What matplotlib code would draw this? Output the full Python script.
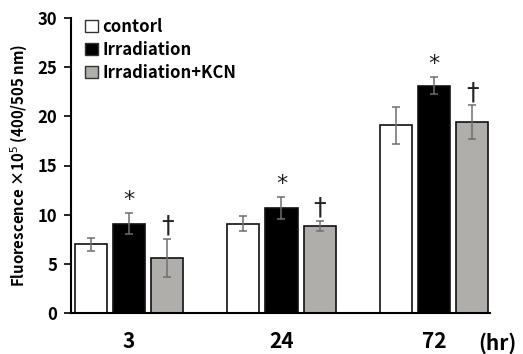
import matplotlib
matplotlib.use("Agg")
import matplotlib.pyplot as plt
import numpy as np
from matplotlib.patches import Patch

plt.rcParams['font.family'] = ['Noto Sans CJK JP', 'DejaVu Sans']

groups = ['3', '24', '72']
series = ['contorl', 'Irradiation', 'Irradiation+KCN']
values = [
    [7.0, 9.1, 19.1],
    [9.1, 10.7, 23.1],
    [5.6, 8.85, 19.4],
]
errors = [
    [0.65, 0.75, 1.9],
    [1.05, 1.1, 0.85],
    [1.95, 0.55, 1.75],
]
marks = [None, '*', '†']
colors = ['#ffffff', '#000000', '#b0aeab']

fig = plt.figure(figsize=(5.23, 3.54), dpi=100)
ax = fig.add_axes([71/523, 1-313/354, (490-71)/523, (313-18)/354])

x = np.arange(len(groups))
width = 0.21
offs = [-0.25, 0.0, 0.25]
for i in range(3):
    ax.bar(x + offs[i], values[i], width, color=colors[i], edgecolor='#111111', linewidth=1.2, zorder=2)
    ax.errorbar(x + offs[i], values[i], yerr=errors[i], fmt='none', ecolor='#6e6e6e',
                elinewidth=1.1, capsize=3, capthick=1.1, zorder=3)
    if marks[i]:
        for xi, v, e in zip(x, values[i], errors[i]):
            if marks[i] == '*':
                ax.text(xi + offs[i], v + e + 0.35, '*', ha='center', va='bottom', fontsize=16,
                        family='DejaVu Sans', color='#222222')
            else:
                ax.text(xi + offs[i], v + e + 0.1, '†', ha='center', va='bottom', fontsize=18,
                        family='DejaVu Sans', fontweight='normal', color='#222222')

ax.set_ylim(0, 30)
ax.set_xlim(-0.38, 2.367)
ax.set_yticks([0, 5, 10, 15, 20, 25, 30])
ax.tick_params(axis='y', labelsize=12, width=1.2, length=5, direction='out', pad=5)
for lab in ax.get_yticklabels():
    lab.set_fontweight('bold')
ax.set_xticks(x)
ax.set_xticklabels(groups, fontsize=15, fontweight='bold')
ax.tick_params(axis='x', length=0, pad=13)
ax.spines['top'].set_visible(False)
ax.spines['right'].set_visible(False)
ax.spines['left'].set_linewidth(1.5)
ax.spines['bottom'].set_linewidth(1.5)
ax.set_ylabel('Fluorescence ×10$^5$ (400/505 nm)', fontsize=10.8, fontweight='bold', labelpad=5)
fig.text(497/523, 1-343/354, '(hr)', fontsize=15, fontweight='bold', ha='center', va='center')

handles = [Patch(facecolor=c, edgecolor='#333333', linewidth=1.0) for c in colors]
leg = ax.legend(handles, series, loc='upper left', bbox_to_anchor=(0.01, 1.035), frameon=False,
                prop={'size': 12, 'weight': 'bold'}, handlelength=0.75, handleheight=0.75,
                handletextpad=0.3, labelspacing=0.3, borderaxespad=0.2)

fig.savefig('out.png', dpi=100)
